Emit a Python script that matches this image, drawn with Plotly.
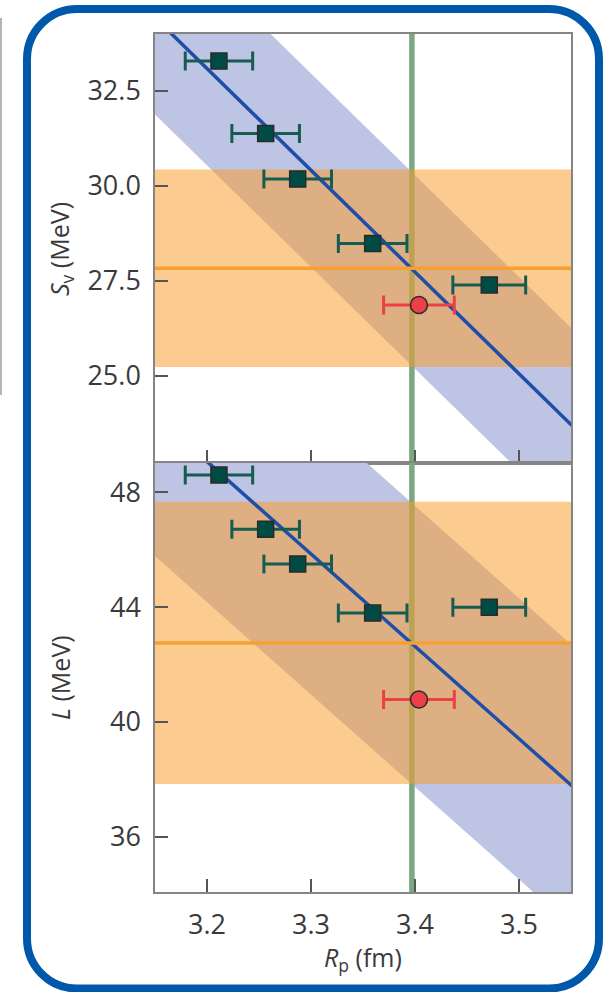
import plotly.graph_objects as go
from plotly.subplots import make_subplots

# ---------------- data ----------------
rp = [3.2115, 3.2564, 3.2872, 3.3593, 3.4714]          # R_p of models (fm)
rp_err = [0.0324, 0.0325, 0.0325, 0.0330, 0.0350]
sv = [33.29, 31.38, 30.18, 28.48, 27.39]                # S_v (MeV)
L_vals = [48.60, 46.71, 45.50, 43.79, 43.99]            # L (MeV)

rp_exp = [3.4038]                                       # red point
rp_exp_err = [0.034]
sv_exp = [26.86]
L_exp = [40.78]

rp_line = 3.397                                         # green vertical line

# linear correlation bands: value at R_p = 3.15, slope, half-width
sv_fit = dict(at=3.15, y0=34.43, slope=-26.8, half=2.55)
L_fit = dict(at=3.15, y0=50.68, slope=-32.2, half=4.9)

# horizontal constraint bands (center, half width)
sv_band = (27.83, 2.6)
L_band = (42.75, 4.92)

x_ticks = [3.2, 3.3, 3.4, 3.5]
x_ticktext = ["3.2", "3.3", "3.4", "3.5"]
sv_ticks = [25.0, 27.5, 30.0, 32.5]
sv_ticktext = ["25.0", "27.5", "30.0", "32.5"]
L_ticks = [36, 40, 44, 48]
L_ticktext = ["36", "40", "44", "48"]

x_range = [3.15, 3.55]
sv_range = [22.7, 34.0]
L_range = [34.07, 49.02]

# ---------------- style ----------------
FONT = "Open Sans"
TXT = "#3a3a3a"
BLUE_BAND = "rgb(189,196,228)"
ORANGE_BAND = "rgba(249,157,44,0.53)"
GREEN = "rgb(122,168,128)"
FIT_BLUE = "rgb(30,78,168)"
ORANGE = "rgb(246,160,48)"
TEAL = "rgb(0,76,68)"
TEAL_ERR = "rgb(22,92,80)"
RED = "rgb(236,64,72)"

fig = make_subplots(rows=2, cols=1, shared_xaxes=True, vertical_spacing=0)

xa, xb = x_range[0] - 1.0, x_range[1] + 1.0


def add_panel(row, fit, band, yvals, yexp, yrange):
    def f(x, off=0.0):
        return fit["y0"] + fit["slope"] * (x - fit["at"]) + off

    # correlation band
    fig.add_trace(go.Scatter(
        x=[xa, xb, xb, xa], y=[f(xa, fit["half"]), f(xb, fit["half"]), f(xb, -fit["half"]), f(xa, -fit["half"])],
        fill="toself", fillcolor=BLUE_BAND, line=dict(width=0), mode="lines",
        hoverinfo="skip", showlegend=False), row=row, col=1)
    # green vertical line
    span = yrange[1] - yrange[0]
    fig.add_trace(go.Scatter(
        x=[rp_line, rp_line], y=[yrange[0] - span, yrange[1] + span], mode="lines",
        line=dict(color=GREEN, width=5.5), hoverinfo="skip", showlegend=False), row=row, col=1)
    # orange band
    c, e = band
    fig.add_trace(go.Scatter(
        x=[xa, xb, xb, xa], y=[c + e, c + e, c - e, c - e],
        fill="toself", fillcolor=ORANGE_BAND, line=dict(width=0), mode="lines",
        hoverinfo="skip", showlegend=False), row=row, col=1)
    # fit line
    fig.add_trace(go.Scatter(
        x=[xa, xb], y=[f(xa), f(xb)], mode="lines",
        line=dict(color=FIT_BLUE, width=3.5), hoverinfo="skip", showlegend=False), row=row, col=1)
    # orange center line
    fig.add_trace(go.Scatter(
        x=[xa, xb], y=[c, c], mode="lines",
        line=dict(color=ORANGE, width=3.5), hoverinfo="skip", showlegend=False), row=row, col=1)
    # model points
    fig.add_trace(go.Scatter(
        x=rp, y=yvals, mode="markers",
        marker=dict(symbol="square", size=16, color=TEAL, line=dict(color="#2a2a2a", width=1.5)),
        error_x=dict(type="data", array=rp_err, color=TEAL_ERR, thickness=3, width=9.5),
        showlegend=False), row=row, col=1)
    # experimental point
    fig.add_trace(go.Scatter(
        x=rp_exp, y=yexp, mode="markers",
        marker=dict(symbol="circle", size=17, color=RED, line=dict(color="#2a2a2a", width=1.5)),
        error_x=dict(type="data", array=rp_exp_err, color=RED, thickness=3, width=9.5),
        showlegend=False), row=row, col=1)


add_panel(1, sv_fit, sv_band, sv, sv_exp, sv_range)
add_panel(2, L_fit, L_band, L_vals, L_exp, L_range)

axis_common = dict(showline=True, linecolor="#858585", linewidth=1.5, mirror=True,
                   ticks="inside", ticklen=13, tickwidth=1.5, tickcolor="#555555",
                   showgrid=False, zeroline=False,
                   tickfont=dict(family=FONT, size=27, color=TXT))

fig.update_xaxes(range=x_range, tickvals=x_ticks, ticktext=x_ticktext, **axis_common)
fig.update_xaxes(showticklabels=False, row=1, col=1)
fig.update_xaxes(ticklabelstandoff=8, row=2, col=1)
fig.update_yaxes(range=sv_range, tickvals=sv_ticks, ticktext=sv_ticktext,
                 ticklabelstandoff=7, row=1, col=1, **axis_common)
fig.update_yaxes(range=L_range, tickvals=L_ticks, ticktext=L_ticktext,
                 ticklabelstandoff=7, row=2, col=1, **axis_common)

# pixel -> paper conversion helpers for decorations
L0, R0, T0, B0 = 155, 571, 34, 892


def px(x):
    return (x - L0) / (R0 - L0)


def py(y):
    return (B0 - y) / (B0 - T0)


# axis titles
fig.add_annotation(text="<i>S</i><sub>v</sub> (MeV)", x=px(60), y=py(249), xref="paper", yref="paper",
                   textangle=-90, showarrow=False, xanchor="center", yanchor="middle",
                   font=dict(family=FONT, size=25, color=TXT))
fig.add_annotation(text="<i>L</i> (MeV)", x=px(60), y=py(678), xref="paper", yref="paper",
                   textangle=-90, showarrow=False, xanchor="center", yanchor="middle",
                   font=dict(family=FONT, size=25, color=TXT))
fig.add_annotation(text="<i>R</i><sub>p</sub> (fm)", x=px(363), y=py(958), xref="paper", yref="paper",
                   showarrow=False, xanchor="center", yanchor="middle",
                   font=dict(family=FONT, size=25, color=TXT))

# rounded blue frame
l, r, t, b, rad = 27, 599, 9, 988.5, 50
k = 0.5523 * rad


def P(x, y):
    return f"{px(x):.5f},{py(y):.5f}"


path = (f"M {P(l, t + rad)} C {P(l, t + rad - k)} {P(l + rad - k, t)} {P(l + rad, t)} "
        f"L {P(r - rad, t)} C {P(r - rad + k, t)} {P(r, t + rad - k)} {P(r, t + rad)} "
        f"L {P(r, b - rad)} C {P(r, b - rad + k)} {P(r - rad + k, b)} {P(r - rad, b)} "
        f"L {P(l + rad, b)} C {P(l + rad - k, b)} {P(l, b - rad + k)} {P(l, b - rad)} Z")
fig.add_shape(type="path", path=path, xref="paper", yref="paper",
              line=dict(color="rgb(0,88,170)", width=8), layer="above")
# thin grey line at far left
fig.add_shape(type="line", x0=px(1), x1=px(1), y0=py(18), y1=py(395), xref="paper", yref="paper",
              line=dict(color="#b4b4b4", width=2))

fig.update_layout(width=605, height=992, margin=dict(l=L0, r=605 - R0, t=T0, b=992 - B0),
                  paper_bgcolor="white", plot_bgcolor="white",
                  font=dict(family=FONT, color=TXT), showlegend=False)

fig.write_html("out.html")
